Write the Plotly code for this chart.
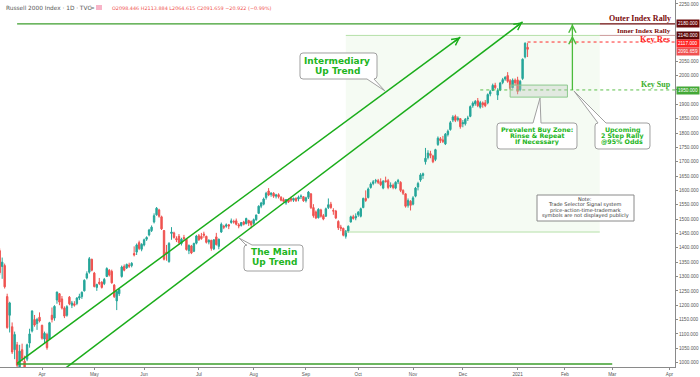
import plotly.graph_objects as go

# ---------------- DATA (daily OHLC, Russell 2000) -------------
# (day, open, high, low, close)
mar_2020 = [(9, 1390, 1398, 1305, 1313), (10, 1335, 1366, 1292, 1350), (11, 1338, 1345, 1258, 1264),
            (12, 1230, 1240, 1118, 1122), (13, 1165, 1212, 1105, 1208), (16, 1125, 1140, 1030, 1037),
            (17, 1045, 1108, 1012, 1098), (18, 1062, 1072, 966, 991), (19, 985, 1062, 975, 1040),
            (20, 1045, 1066, 1004, 1014), (23, 1005, 1024, 962, 968), (24, 1012, 1066, 1005, 1062),
            (25, 1068, 1118, 1052, 1100), (26, 1110, 1182, 1105, 1180), (27, 1150, 1166, 1125, 1131),
            (30, 1136, 1156, 1114, 1150), (31, 1158, 1175, 1140, 1145)]
apr_2020 = [(1, 1130, 1132, 1080, 1085), (2, 1082, 1108, 1065, 1102), (3, 1098, 1104, 1045, 1052),
            (6, 1082, 1142, 1080, 1139), (7, 1165, 1192, 1140, 1150), (8, 1155, 1200, 1146, 1196),
            (9, 1218, 1247, 1205, 1246), (13, 1240, 1242, 1200, 1211), (14, 1222, 1232, 1185, 1190),
            (15, 1190, 1196, 1155, 1162), (16, 1165, 1200, 1160, 1195), (17, 1228, 1232, 1200, 1205),
            (20, 1200, 1215, 1190, 1208), (21, 1205, 1214, 1195, 1200), (22, 1206, 1228, 1200, 1225),
            (23, 1225, 1240, 1218, 1230), (24, 1230, 1248, 1222, 1245), (27, 1250, 1290, 1248, 1287),
            (28, 1295, 1318, 1290, 1310), (29, 1315, 1368, 1310, 1362), (30, 1360, 1362, 1318, 1322)]
may_2020 = [(1, 1312, 1316, 1262, 1265), (4, 1262, 1275, 1250, 1272), (5, 1280, 1295, 1270, 1276),
            (6, 1280, 1284, 1258, 1262), (7, 1275, 1295, 1270, 1290), (8, 1300, 1332, 1298, 1328),
            (11, 1322, 1326, 1300, 1305), (12, 1318, 1324, 1275, 1278), (13, 1270, 1274, 1225, 1230),
            (14, 1215, 1250, 1183, 1248), (15, 1240, 1258, 1232, 1255), (18, 1300, 1338, 1296, 1333),
            (19, 1335, 1342, 1318, 1322), (20, 1330, 1345, 1326, 1342), (21, 1340, 1348, 1330, 1336),
            (22, 1338, 1350, 1332, 1346), (26, 1380, 1405, 1370, 1375), (27, 1385, 1415, 1375, 1410),
            (28, 1418, 1425, 1392, 1398), (29, 1395, 1416, 1388, 1412)]
jun_2020 = [(1, 1410, 1432, 1405, 1428), (2, 1430, 1440, 1424, 1436), (3, 1445, 1466, 1440, 1462),
            (4, 1460, 1478, 1455, 1472), (5, 1490, 1520, 1485, 1512), (8, 1515, 1542, 1512, 1538),
            (9, 1532, 1536, 1505, 1510), (10, 1508, 1512, 1462, 1466), (11, 1460, 1462, 1356, 1360),
            (12, 1385, 1410, 1355, 1380), (15, 1352, 1420, 1348, 1415), (16, 1450, 1472, 1428, 1455),
            (17, 1452, 1456, 1432, 1436), (18, 1432, 1440, 1420, 1428), (19, 1440, 1448, 1410, 1418),
            (22, 1415, 1435, 1408, 1430), (23, 1436, 1445, 1426, 1432), (24, 1430, 1432, 1390, 1394),
            (25, 1390, 1412, 1378, 1408), (26, 1406, 1410, 1378, 1382), (29, 1388, 1418, 1385, 1415),
            (30, 1416, 1445, 1412, 1441)]
jul_2020 = [(1, 1442, 1448, 1424, 1428), (2, 1440, 1452, 1428, 1432), (6, 1448, 1456, 1435, 1444),
            (7, 1440, 1442, 1415, 1419), (8, 1420, 1430, 1412, 1426), (9, 1426, 1428, 1390, 1398),
            (10, 1396, 1430, 1392, 1428), (13, 1438, 1452, 1408, 1411), (14, 1405, 1432, 1395, 1430),
            (15, 1455, 1488, 1452, 1482), (16, 1475, 1480, 1465, 1472), (17, 1475, 1485, 1470, 1480),
            (20, 1480, 1483, 1465, 1476), (21, 1488, 1502, 1484, 1494), (22, 1492, 1498, 1484, 1490),
            (23, 1494, 1502, 1478, 1482), (24, 1480, 1486, 1468, 1476), (27, 1478, 1490, 1474, 1488),
            (28, 1490, 1494, 1478, 1482), (29, 1484, 1505, 1482, 1502), (30, 1495, 1498, 1476, 1486),
            (31, 1492, 1495, 1468, 1480)]
aug_2020 = [(3, 1485, 1502, 1480, 1498), (4, 1498, 1516, 1494, 1514), (5, 1520, 1548, 1518, 1545),
            (6, 1545, 1560, 1538, 1556), (7, 1552, 1575, 1548, 1570), (10, 1575, 1595, 1568, 1590),
            (11, 1598, 1608, 1580, 1584), (12, 1586, 1594, 1578, 1590), (13, 1590, 1594, 1574, 1580),
            (14, 1580, 1588, 1572, 1584), (17, 1585, 1590, 1572, 1578), (18, 1576, 1580, 1562, 1566),
            (19, 1568, 1575, 1558, 1562), (20, 1556, 1570, 1550, 1568), (21, 1568, 1572, 1556, 1560),
            (24, 1572, 1578, 1560, 1566), (25, 1566, 1575, 1560, 1572), (26, 1572, 1576, 1560, 1564),
            (27, 1570, 1582, 1562, 1576), (28, 1578, 1586, 1570, 1580), (31, 1578, 1580, 1560, 1564)]
sep_2020 = [(1, 1564, 1578, 1558, 1574), (2, 1576, 1598, 1570, 1594), (3, 1588, 1590, 1535, 1540),
            (4, 1540, 1552, 1505, 1512), (8, 1525, 1530, 1500, 1504), (9, 1505, 1538, 1502, 1534),
            (10, 1532, 1536, 1505, 1510), (11, 1512, 1518, 1496, 1500), (14, 1510, 1540, 1508, 1536),
            (15, 1540, 1572, 1535, 1550), (16, 1552, 1560, 1536, 1540), (17, 1530, 1538, 1515, 1528),
            (18, 1528, 1532, 1500, 1504), (21, 1492, 1496, 1462, 1470), (22, 1472, 1480, 1458, 1468),
            (23, 1468, 1470, 1440, 1444), (24, 1440, 1462, 1432, 1458), (25, 1458, 1478, 1452, 1475),
            (28, 1490, 1512, 1488, 1508), (29, 1508, 1515, 1498, 1502), (30, 1504, 1520, 1496, 1510)]
oct_2020 = [(1, 1515, 1528, 1508, 1524), (2, 1510, 1540, 1506, 1536), (5, 1540, 1575, 1538, 1572),
            (6, 1572, 1600, 1560, 1565), (7, 1575, 1610, 1572, 1605), (8, 1610, 1628, 1606, 1622),
            (9, 1624, 1636, 1618, 1630), (12, 1632, 1640, 1624, 1634), (13, 1634, 1640, 1622, 1628),
            (14, 1630, 1642, 1615, 1620), (15, 1608, 1636, 1604, 1632), (16, 1634, 1648, 1628, 1630),
            (19, 1634, 1640, 1604, 1610), (20, 1614, 1628, 1608, 1618), (21, 1618, 1624, 1604, 1610),
            (22, 1608, 1632, 1604, 1628), (23, 1630, 1640, 1622, 1634), (26, 1628, 1632, 1594, 1600),
            (27, 1600, 1604, 1584, 1590), (28, 1588, 1590, 1540, 1545), (29, 1548, 1572, 1540, 1565),
            (30, 1562, 1566, 1530, 1548)]
nov_2020 = [(2, 1552, 1580, 1548, 1574), (3, 1580, 1612, 1576, 1608), (4, 1612, 1630, 1600, 1624),
            (5, 1636, 1660, 1630, 1654), (6, 1652, 1662, 1640, 1658), (9, 1700, 1748, 1690, 1712),
            (10, 1715, 1740, 1708, 1730), (11, 1728, 1738, 1712, 1722), (12, 1720, 1724, 1695, 1700),
            (13, 1708, 1745, 1702, 1742), (16, 1760, 1788, 1755, 1782), (17, 1780, 1786, 1765, 1774),
            (18, 1776, 1790, 1765, 1770), (19, 1762, 1800, 1758, 1796), (20, 1795, 1812, 1788, 1806),
            (23, 1812, 1842, 1808, 1836), (24, 1845, 1862, 1838, 1856), (25, 1858, 1864, 1838, 1844),
            (27, 1846, 1858, 1840, 1852), (30, 1850, 1852, 1815, 1822)]
dec_2020 = [(1, 1832, 1845, 1820, 1836), (2, 1832, 1852, 1826, 1848), (3, 1850, 1860, 1842, 1852),
            (4, 1858, 1896, 1855, 1892), (7, 1895, 1910, 1888, 1904), (8, 1902, 1915, 1895, 1910),
            (9, 1912, 1922, 1890, 1895), (10, 1890, 1912, 1885, 1906), (11, 1905, 1910, 1888, 1898),
            (14, 1905, 1915, 1890, 1895), (15, 1905, 1938, 1900, 1934), (16, 1936, 1950, 1928, 1944),
            (17, 1948, 1972, 1946, 1966), (18, 1966, 1975, 1952, 1958), (21, 1932, 1956, 1915, 1948),
            (22, 1950, 1978, 1946, 1974), (23, 1976, 1992, 1970, 1986), (24, 1988, 1998, 1982, 1994),
            (28, 2000, 2012, 1975, 1980), (29, 1982, 1988, 1950, 1956), (30, 1958, 1990, 1955, 1984),
            (31, 1984, 1990, 1966, 1975)]
jan_2021 = [(4, 1985, 1996, 1935, 1945), (5, 1950, 1985, 1945, 1980), (6, 1990, 2060, 1985, 2057),
            (7, 2065, 2116, 2060, 2112.581), (8, 2098.446, 2113.884, 2064.615, 2091.659)]

months = [("2020-03", mar_2020), ("2020-04", apr_2020), ("2020-05", may_2020), ("2020-06", jun_2020),
          ("2020-07", jul_2020), ("2020-08", aug_2020), ("2020-09", sep_2020), ("2020-10", oct_2020),
          ("2020-11", nov_2020), ("2020-12", dec_2020), ("2021-01", jan_2021)]

holidays = ["2020-04-10", "2020-05-25", "2020-07-03", "2020-09-07", "2020-11-26", "2020-12-25",
            "2021-01-01", "2021-01-18", "2021-02-15", "2021-04-02"]

month_ticks = ["2020-04-01", "2020-05-01", "2020-06-01", "2020-07-01", "2020-08-03", "2020-09-01",
               "2020-10-01", "2020-11-02", "2020-12-01", "2021-01-04", "2021-02-01", "2021-03-01",
               "2021-04-01"]
month_labels = ["Apr", "May", "Jun", "Jul", "Aug", "Sep", "Oct", "Nov", "Dec", "2021", "Feb", "Mar", "Apr"]

price_ticks = [1000, 1050, 1100, 1150, 1200, 1250, 1300, 1350, 1400, 1450, 1500, 1550, 1600, 1650,
               1700, 1750, 1800, 1850, 1900, 1950, 2000, 2050, 2250]

# key levels
outer_rally = 2180
inner_rally = 2140
key_res = 2117
key_sup = 1950
last_close = 2091.659
base_level = 995
zone_low, zone_high = 1455, 2140
buy_zone = (1925, 1967)

# trend lines (date, price)
trend_intermediary = [("2020-03-18", 997), ("2020-11-30", 2134)]
trend_main = [("2020-04-15", 978), ("2021-01-06", 2187)]

# ---------------- BUILD ----------------
dates, o, h, l, c = [], [], [], [], []
for ym, rows in months:
    for d, oo, hh, ll, cc in rows:
        dates.append(f"{ym}-{d:02d}")
        o.append(oo); h.append(hh); l.append(ll); c.append(cc)

X_RANGE = ["2020-03-09 03:00", "2021-04-06 05:00"]
Y_RANGE = [984.7, 2263.4]
W, H = 700, 377
ML, MR, MT, MB = 0, 25, 0, 10
PW, PH = W - ML - MR, H - MT - MB

def px(x):
    return (x - ML) / PW

def py(y):
    return 1 - (y - MT) / PH

GREEN = "#1aad1a"
MAROON = "#6b0a0a"
AXFONT = dict(size=4.7, color="#555555", family="Liberation Sans")
fig = go.Figure()
fig.add_trace(go.Candlestick(
    x=dates, open=o, high=h, low=l, close=c,
    increasing=dict(line=dict(color="#26a69a", width=1), fillcolor="#26a69a"),
    decreasing=dict(line=dict(color="#ef5350", width=1), fillcolor="#ef5350"),
    whiskerwidth=0, showlegend=False, hoverinfo="skip"))

shapes = []
shapes.append(dict(type="rect", xref="x", yref="y", x0="2020-09-24", x1="2021-02-22",
                   y0=zone_low, y1=zone_high, fillcolor="rgba(120,200,90,0.07)", line=dict(width=0),
                   layer="below"))
for lvl in (zone_low, zone_high):
    shapes.append(dict(type="line", xref="x", yref="y", x0="2020-09-24", x1="2021-02-22",
                       y0=lvl, y1=lvl, line=dict(color="#b5e0a8", width=1)))
# maroon level rays (inner / outer rally)
shapes.append(dict(type="line", xref="x", yref="y", x0="2021-02-22", x1=X_RANGE[1],
                   y0=inner_rally, y1=inner_rally, line=dict(color="rgba(140,30,30,0.45)", width=1)))
shapes.append(dict(type="line", xref="x", yref="y", x0="2020-03-18", x1="2021-02-22",
                   y0=outer_rally, y1=outer_rally, line=dict(color="#3c9e2c", width=1.3)))
shapes.append(dict(type="line", xref="x", yref="y", x0="2021-02-22", x1=X_RANGE[1],
                   y0=outer_rally, y1=outer_rally, line=dict(color=MAROON, width=1.3)))
shapes.append(dict(type="line", xref="x", yref="y", x0="2021-01-08", x1=X_RANGE[1],
                   y0=key_res, y1=key_res, line=dict(color="#ff2a2a", width=1, dash="dot")))
shapes.append(dict(type="line", xref="x", yref="y", x0="2020-12-10", x1=X_RANGE[1],
                   y0=key_sup, y1=key_sup, line=dict(color="#5cbf4a", width=1, dash="dot")))
shapes.append(dict(type="line", xref="x", yref="y", x0="2020-03-18", x1="2021-03-01",
                   y0=base_level, y1=base_level, line=dict(color="#3c9e2c", width=1.5)))
for tl in (trend_intermediary, trend_main):
    shapes.append(dict(type="line", xref="x", yref="y", x0=tl[0][0], y0=tl[0][1], x1=tl[1][0],
                       y1=tl[1][1], line=dict(color=GREEN, width=1.5)))
shapes.append(dict(type="rect", xref="x", yref="y", x0="2020-12-29", x1="2021-02-02",
                   y0=buy_zone[0], y1=buy_zone[1], fillcolor="rgba(190,200,190,0.35)",
                   line=dict(color="#8cc98c", width=1)))
shapes.append(dict(type="line", xref="x", yref="y", x0="2021-02-04", x1="2021-02-04",
                   y0=key_sup, y1=outer_rally, line=dict(color="#4cbb3c", width=1.3)))


def bubble(x0, y0, x1, y1, side, a, b, tip, r=3):
    pts = []
    def P(cmd, *xy):
        s = cmd
        for i in range(0, len(xy), 2):
            s += f"{px(xy[i]):.5f},{py(xy[i+1]):.5f} "
        pts.append(s)
    P("M", x0 + r, y0)
    if side == "top":
        P("L", a, y0); P("L", *tip); P("L", b, y0)
    P("L", x1 - r, y0); P("Q", x1, y0, x1, y0 + r)
    if side == "right":
        P("L", x1, a); P("L", *tip); P("L", x1, b)
    P("L", x1, y1 - r); P("Q", x1, y1, x1 - r, y1)
    if side == "bottom":
        P("L", b, y1); P("L", *tip); P("L", a, y1)
    P("L", x0 + r, y1); P("Q", x0, y1, x0, y1 - r)
    if side == "left":
        P("L", x0, b); P("L", *tip); P("L", x0, a)
    P("L", x0, y0 + r); P("Q", x0, y0, x0 + r, y0)
    return dict(type="path", xref="paper", yref="paper", path=" ".join(pts) + "Z",
                fillcolor="white", line=dict(color="#a0a0a0", width=1), layer="above")

shapes.append(bubble(300, 53, 377, 79, "bottom", 367, 374, (385, 91)))
shapes.append(bubble(244, 245, 303, 271, "top", 246, 252, (239, 238)))
shapes.append(bubble(497, 123, 577, 149, "top", 533, 541, (540, 98)))
shapes.append(bubble(595, 123, 650, 149, "top", 598, 606, (574, 91)))
shapes.append(dict(type="rect", xref="paper", yref="paper", x0=px(537), x1=px(634), y0=py(221),
                   y1=py(195), fillcolor="white", line=dict(color="#8a8a8a", width=1)))

ann = []

def text(x, y, t, size, color, family="DejaVu Sans", anchor="center", bold=False):
    ann.append(dict(xref="paper", yref="paper", x=px(x), y=py(y), text=f"<b>{t}</b>" if bold else t,
                    showarrow=False, xanchor=anchor, yanchor="middle",
                    font=dict(size=size, color=color, family=family)))

CT = "#22b522"
text(337, 61, "Intermediary", 9, CT, bold=True)
text(337, 71, "Up Trend", 9, CT, bold=True)
text(274, 252, "The Main", 9, CT, bold=True)
text(274, 262, "Up Trend", 9, CT, bold=True)
text(537, 130, "Prevalent Buy Zone:", 6.3, CT, bold=True)
text(537, 136, "Rinse &amp; Repeat", 6.3, CT, bold=True)
text(537, 142, "If Necessary", 6.3, CT, bold=True)
text(622, 130, "Upcoming", 6.3, CT, bold=True)
text(622, 136, "2 Step Rally", 6.3, CT, bold=True)
text(622, 142, "@95% Odds", 6.3, CT, bold=True)
NT = "#333333"
text(585, 199, "Note:", 5, NT)
text(585, 204.5, "Trade Selector Signal system", 5, NT)
text(585, 210, "price-action-time-trademark", 5, NT)
text(585, 215.5, "symbols are not displayed publicly", 5, NT)

SERIF = "Liberation Serif"
text(673, 19, "Outer Index Rally", 8, "#7a0a0a", SERIF, "right", True)
text(673, 31, "Inner Index Rally", 7, "#7a0a0a", SERIF, "right", True)
text(673, 38.5, "Key Res", 8.5, "#ff1a1a", SERIF, "right", True)
text(673, 85, "Key Sup", 8, "#3aae2a", SERIF, "right", True)

text(4, 8, "Russell 2000 Index · 1D · TVC", 5.8, "#555555", anchor="left")
text(110, 8, "O2098.446 H2113.884 L2064.615 C2091.659 −20.922 (−0.99%)", 4.9, "#ef5350",
     anchor="left")
shapes.append(dict(type="rect", xref="paper", yref="paper", x0=px(96), x1=px(102), y0=py(10),
                   y1=py(5), fillcolor="#f8b4c8", line=dict(width=0)))
text(92, 7.5, "=", 5.5, "#666666")

def pbox(y, t, bg):
    ann.append(dict(xref="paper", yref="paper", x=px(676), y=py(y), text=t, showarrow=False,
                    xanchor="left", yanchor="middle", bgcolor=bg, borderpad=1,
                    font=dict(size=4.7, color="white", family="Liberation Sans")))

pbox(24, f"{outer_rally:.3f}", MAROON)
pbox(35.5, f"{inner_rally:.3f}", "#5c0808")
pbox(43.5, f"{key_res:.3f}", "#ff2424")
pbox(51.5, f"{last_close:.3f}", "#f05050")
pbox(90, f"{key_sup:.3f}", "#43a836")

def head(xd, yd, dx, dy, color):
    ann.append(dict(xref="x", yref="y", x=xd, y=yd, ax=dx, ay=dy, showarrow=True, arrowhead=5,
                    arrowsize=1.1, arrowwidth=1.3, arrowcolor=color, text=""))

head(trend_intermediary[1][0], trend_intermediary[1][1], -8, 6, GREEN)
head(trend_main[1][0], trend_main[1][1], -8, 6, GREEN)
head("2021-02-04", inner_rally, 0, 8, "#4cbb3c")
head("2021-02-04", outer_rally, 0, 8, "#4cbb3c")

fig.update_layout(
    width=W, height=H, margin=dict(l=ML, r=MR, t=MT, b=MB, autoexpand=False),
    paper_bgcolor="white", plot_bgcolor="white", boxgap=0.2,
    shapes=shapes, annotations=ann, showlegend=False,
    xaxis=dict(type="date", range=X_RANGE, rangeslider=dict(visible=False),
               rangebreaks=[dict(bounds=["sat", "mon"]), dict(values=holidays)],
               tickvals=month_ticks, ticktext=month_labels, showgrid=False, zeroline=False,
               showline=True, linecolor="#8a8a8a", linewidth=1, ticks="outside", ticklen=2,
               tickcolor="#8a8a8a", tickfont=AXFONT, automargin=False),
    yaxis=dict(side="right", range=Y_RANGE, tickvals=price_ticks,
               ticktext=[f"{v:.3f}" for v in price_ticks], showgrid=False, zeroline=False,
               showline=True, linecolor="#8a8a8a", linewidth=1, ticks="outside", ticklen=2,
               tickcolor="#8a8a8a", tickfont=AXFONT, automargin=False),
)

fig.write_html("out.html", config={"displayModeBar": False},
               post_script="document.body.style.margin='0';document.body.style.overflow='hidden';")
